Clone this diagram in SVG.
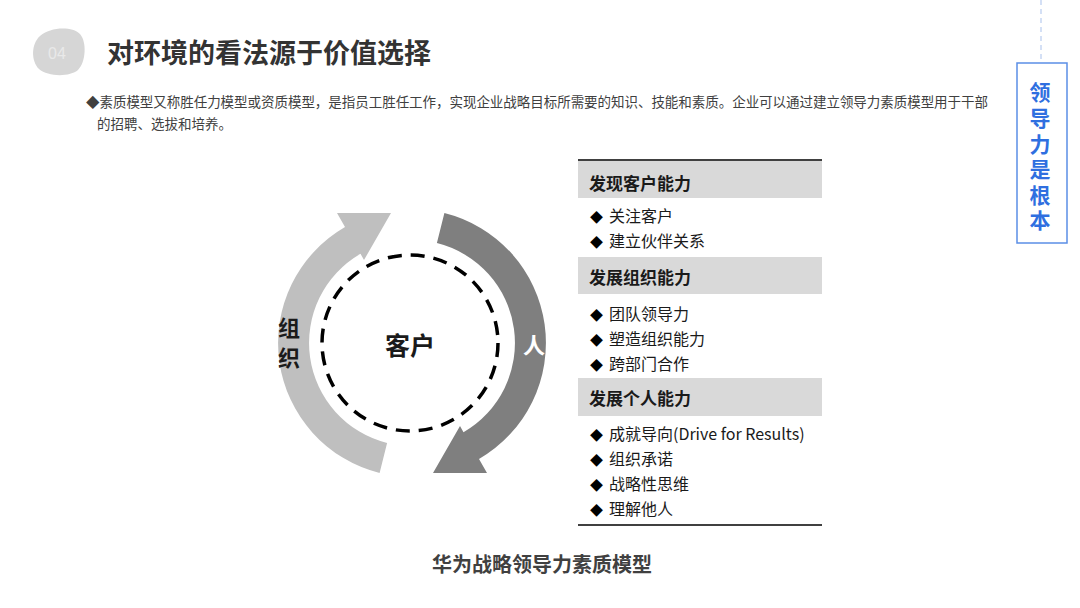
<svg xmlns="http://www.w3.org/2000/svg" width="1080" height="608" viewBox="0 0 1080 608">
<style>
text{font-family:"Noto Sans CJK SC","Liberation Sans",sans-serif;}
.hd{font-size:17px;font-weight:700;fill:#1a1a1a;}
.it{font-size:16px;fill:#1a1a1a;}
.dm{font-size:13px;fill:#000;}
.band{fill:#d9d9d9;}
.vert{writing-mode:vertical-rl;text-orientation:upright;}
</style>
<defs>
<path id="arrowL" d="M379.6,473 A134,134 0 0 1 345,227 L337,213 L391,213 L364,260 L360.5,253.8 A103,103 0 0 0 387.1,442.9 Z"/>
</defs>
<rect width="1080" height="608" fill="#ffffff"/>

<g id="badge">
<path d="M40,36 C50,27 72,26 80,34 C87,42 86,62 78,70 C70,77 48,77 39,69 C31,61 31,44 40,36 Z" fill="#d6d6d6"/>
<text x="57" y="59" font-size="16" fill="#e9e9e9" text-anchor="middle" style="font-family:'Liberation Sans',sans-serif">04</text>
</g>

<g id="title">
<text x="107" y="63" font-size="27" font-weight="700" fill="#333333">对环境的看法源于价值选择</text>
</g>

<g id="intro">
<text x="86" y="107" font-size="13.5" fill="#404040" textLength="902" lengthAdjust="spacing">◆素质模型又称胜任力模型或资质模型，是指员工胜任工作，实现企业战略目标所需要的知识、技能和素质。企业可以通过建立领导力素质模型用于干部</text>
<text x="97" y="129" font-size="13.5" fill="#404040">的招聘、选拔和培养。</text>
</g>

<g id="side">
<line x1="1041" y1="0" x2="1041" y2="62" stroke="#a9c1ec" stroke-width="1" stroke-dasharray="5 4"/>
<rect x="1017" y="63" width="50" height="180" fill="#ffffff" stroke="#5b8ee6" stroke-width="1.5"/>
<text class="vert" x="1040" y="82" font-size="21" font-weight="700" fill="#2f6fe0" letter-spacing="4.6">领导力是根本</text>
</g>

<g id="cycle">
<g id="arrow-org">
<use href="#arrowL" fill="#bfbfbf"/>
<text class="vert" x="289" y="317" font-size="22" font-weight="700" fill="#1a1a1a" letter-spacing="8">组织</text>
</g>
<g id="arrow-people">
<use href="#arrowL" fill="#7f7f7f" transform="rotate(180 412 343)"/>
<text x="534" y="353" font-size="22" font-weight="700" fill="#ffffff" text-anchor="middle">人</text>
</g>
<g id="customer">
<circle cx="410" cy="343" r="88" fill="none" stroke="#000000" stroke-width="3.5" stroke-dasharray="14 9.04"/>
<text x="410" y="355" font-size="25" font-weight="700" fill="#1a1a1a" text-anchor="middle">客户</text>
</g>
</g>

<g id="table">
<line x1="578" y1="160" x2="822" y2="160" stroke="#404040" stroke-width="2"/>
<g id="sec1">
<rect class="band" x="578" y="161" width="244" height="37"/>
<text class="hd" x="589" y="190">发现客户能力</text>
<text class="it" x="590" y="222"><tspan class="dm">◆</tspan><tspan x="609">关注客户</tspan></text>
<text class="it" x="590" y="247"><tspan class="dm">◆</tspan><tspan x="609">建立伙伴关系</tspan></text>
</g>
<g id="sec2">
<rect class="band" x="578" y="257" width="244" height="37"/>
<text class="hd" x="589" y="284">发展组织能力</text>
<text class="it" x="590" y="320"><tspan class="dm">◆</tspan><tspan x="609">团队领导力</tspan></text>
<text class="it" x="590" y="345"><tspan class="dm">◆</tspan><tspan x="609">塑造组织能力</tspan></text>
<text class="it" x="590" y="370"><tspan class="dm">◆</tspan><tspan x="609">跨部门合作</tspan></text>
</g>
<g id="sec3">
<rect class="band" x="578" y="378" width="244" height="38"/>
<text class="hd" x="589" y="405">发展个人能力</text>
<text class="it" x="590" y="440"><tspan class="dm">◆</tspan><tspan x="609">成就导向(Drive for Results)</tspan></text>
<text class="it" x="590" y="465"><tspan class="dm">◆</tspan><tspan x="609">组织承诺</tspan></text>
<text class="it" x="590" y="490"><tspan class="dm">◆</tspan><tspan x="609">战略性思维</tspan></text>
<text class="it" x="590" y="515"><tspan class="dm">◆</tspan><tspan x="609">理解他人</tspan></text>
</g>
<line x1="578" y1="525" x2="822" y2="525" stroke="#404040" stroke-width="2"/>
</g>

<g id="caption">
<text x="542" y="572" font-size="20" font-weight="700" fill="#404040" text-anchor="middle">华为战略领导力素质模型</text>
</g>
</svg>
